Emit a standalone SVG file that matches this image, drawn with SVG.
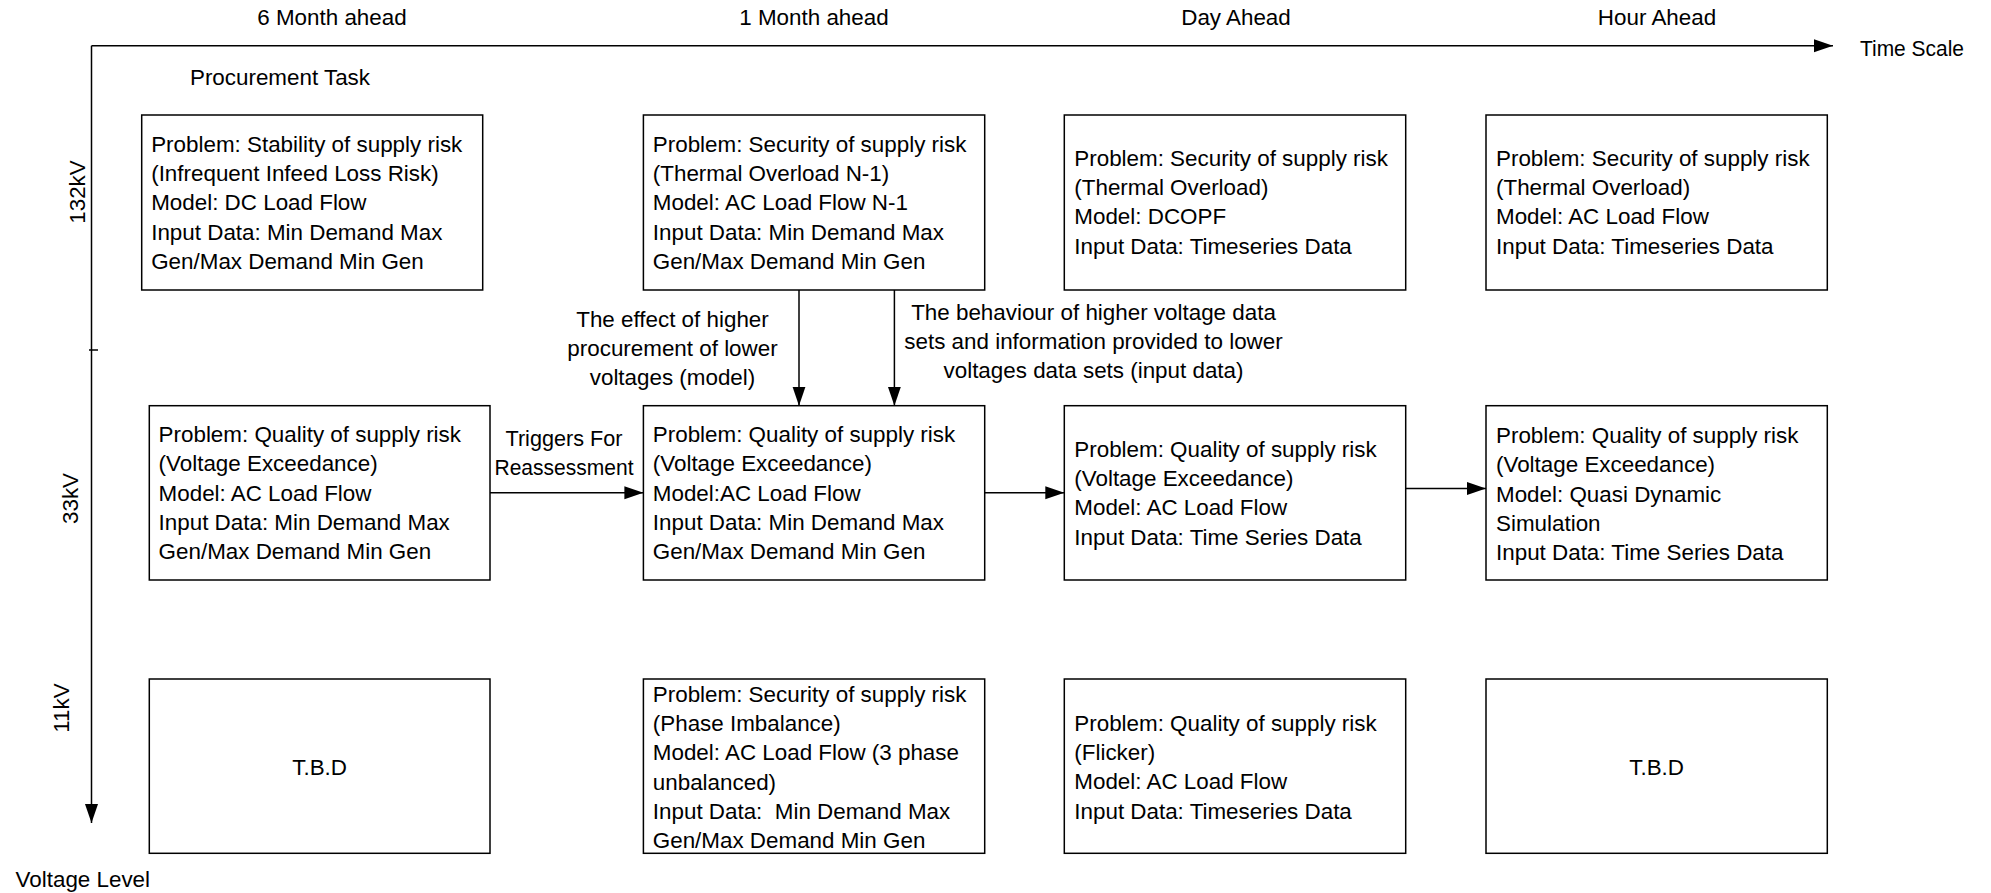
<svg xmlns="http://www.w3.org/2000/svg" width="1991" height="893" viewBox="0 0 1991 893">
  <defs>
    <style>
      .t { font-family: "Liberation Sans", Arial, sans-serif; font-size: 22.4px; fill: #000; }
      .c { text-anchor: middle; }
      .box { fill: #fff; stroke: #000; stroke-width: 1.5; }
      .ln { fill: none; stroke: #000; stroke-width: 1.5; }
      .pre { white-space: pre; }
    </style>
    <marker id="head" markerUnits="userSpaceOnUse" markerWidth="20" markerHeight="14" refX="19" refY="6.5" orient="auto">
      <path d="M0,0 L19,6.5 L0,13 Z" fill="#000"/>
    </marker>
  </defs>
  <rect width="1991" height="893" fill="#fff"/>

  <!-- axes -->
  <g id="axes">
    <line class="ln" x1="91.5" y1="45.7" x2="1833" y2="45.7" marker-end="url(#head)"/>
    <line class="ln" x1="91.5" y1="45.7" x2="91.5" y2="823" marker-end="url(#head)"/>
    <line class="ln" x1="89" y1="350" x2="98" y2="350"/>
    <text class="t c" x="332" y="25">6 Month ahead</text>
    <text class="t c" x="814" y="25">1 Month ahead</text>
    <text class="t c" x="1236" y="25">Day Ahead</text>
    <text class="t c" x="1657" y="25">Hour Ahead</text>
    <text class="t" x="1860" y="55.5" textLength="104" lengthAdjust="spacingAndGlyphs">Time Scale</text>
    <text class="t c" x="280" y="85">Procurement Task</text>
    <text class="t c" transform="translate(85,192) rotate(-90)">132kV</text>
    <text class="t c" transform="translate(78,498.5) rotate(-90)">33kV</text>
    <text class="t c" transform="translate(69,708) rotate(-90)">11kV</text>
    <text class="t" x="15.6" y="887">Voltage Level</text>
  </g>

  <!-- connectors -->
  <g id="connectors">
    <line class="ln" x1="490" y1="492.7" x2="643.4" y2="492.7" marker-end="url(#head)"/>
    <line class="ln" x1="984.7" y1="492.7" x2="1064.3" y2="492.7" marker-end="url(#head)"/>
    <line class="ln" x1="1405.7" y1="488.5" x2="1486" y2="488.5" marker-end="url(#head)"/>
    <line class="ln" x1="799" y1="290" x2="799" y2="405.7" marker-end="url(#head)"/>
    <line class="ln" x1="894.4" y1="290" x2="894.4" y2="405.7" marker-end="url(#head)"/>
    <text class="t c" x="564" y="445.7" textLength="117" lengthAdjust="spacingAndGlyphs">Triggers For</text>
    <text class="t c" x="564" y="475" textLength="139" lengthAdjust="spacingAndGlyphs">Reassessment</text>
    <text class="t c" x="672.5" y="326.7">The effect of higher</text>
    <text class="t c" x="672.5" y="355.7">procurement of lower</text>
    <text class="t c" x="672.5" y="384.7">voltages (model)</text>
    <text class="t c" x="1093.5" y="320">The behaviour of higher voltage data</text>
    <text class="t c" x="1093.5" y="349.3">sets and information provided to lower</text>
    <text class="t c" x="1093.5" y="378.3">voltages data sets (input data)</text>
  </g>

  <!-- 132kV row -->
  <g id="n132-6m">
    <rect class="box" x="141.7" y="115" width="341" height="175"/>
    <text class="t" x="151.2" y="151.7">Problem: Stability of supply risk</text>
    <text class="t" x="151.2" y="181">(Infrequent Infeed Loss Risk)</text>
    <text class="t" x="151.2" y="210.3">Model: DC Load Flow</text>
    <text class="t" x="151.2" y="239.6">Input Data: Min Demand Max</text>
    <text class="t" x="151.2" y="269">Gen/Max Demand Min Gen</text>
  </g>
  <g id="n132-1m">
    <rect class="box" x="643.4" y="115" width="341.3" height="175"/>
    <text class="t" x="652.8" y="151.7">Problem: Security of supply risk</text>
    <text class="t" x="652.8" y="181">(Thermal Overload N-1)</text>
    <text class="t" x="652.8" y="210.3">Model: AC Load Flow N-1</text>
    <text class="t" x="652.8" y="239.6">Input Data: Min Demand Max</text>
    <text class="t" x="652.8" y="269">Gen/Max Demand Min Gen</text>
  </g>
  <g id="n132-day">
    <rect class="box" x="1064.3" y="115" width="341.4" height="175"/>
    <text class="t" x="1074.3" y="165.7">Problem: Security of supply risk</text>
    <text class="t" x="1074.3" y="195">(Thermal Overload)</text>
    <text class="t" x="1074.3" y="224.3">Model: DCOPF</text>
    <text class="t" x="1074.3" y="253.6">Input Data: Timeseries Data</text>
  </g>
  <g id="n132-hour">
    <rect class="box" x="1486" y="115" width="341.3" height="175"/>
    <text class="t" x="1496" y="165.7">Problem: Security of supply risk</text>
    <text class="t" x="1496" y="195">(Thermal Overload)</text>
    <text class="t" x="1496" y="224.3">Model: AC Load Flow</text>
    <text class="t" x="1496" y="253.6">Input Data: Timeseries Data</text>
  </g>

  <!-- 33kV row -->
  <g id="n33-6m">
    <rect class="box" x="149.3" y="405.7" width="340.7" height="174.3"/>
    <text class="t" x="158.6" y="442">Problem: Quality of supply risk</text>
    <text class="t" x="158.6" y="471.3">(Voltage Exceedance)</text>
    <text class="t" x="158.6" y="500.6">Model: AC Load Flow</text>
    <text class="t" x="158.6" y="530">Input Data: Min Demand Max</text>
    <text class="t" x="158.6" y="559.3">Gen/Max Demand Min Gen</text>
  </g>
  <g id="n33-1m">
    <rect class="box" x="643.4" y="405.7" width="341.3" height="174.3"/>
    <text class="t" x="652.8" y="442">Problem: Quality of supply risk</text>
    <text class="t" x="652.8" y="471.3">(Voltage Exceedance)</text>
    <text class="t" x="652.8" y="500.6">Model:AC Load Flow</text>
    <text class="t" x="652.8" y="530">Input Data: Min Demand Max</text>
    <text class="t" x="652.8" y="559.3">Gen/Max Demand Min Gen</text>
  </g>
  <g id="n33-day">
    <rect class="box" x="1064.3" y="405.7" width="341.4" height="174.3"/>
    <text class="t" x="1074.3" y="456.7">Problem: Quality of supply risk</text>
    <text class="t" x="1074.3" y="486">(Voltage Exceedance)</text>
    <text class="t" x="1074.3" y="515.3">Model: AC Load Flow</text>
    <text class="t" x="1074.3" y="544.6">Input Data: Time Series Data</text>
  </g>
  <g id="n33-hour">
    <rect class="box" x="1486" y="405.7" width="341.3" height="174.3"/>
    <text class="t" x="1496" y="443">Problem: Quality of supply risk</text>
    <text class="t" x="1496" y="472.3">(Voltage Exceedance)</text>
    <text class="t" x="1496" y="501.6">Model: Quasi Dynamic</text>
    <text class="t" x="1496" y="531">Simulation</text>
    <text class="t" x="1496" y="560.3">Input Data: Time Series Data</text>
  </g>

  <!-- 11kV row -->
  <g id="n11-6m">
    <rect class="box" x="149.3" y="679" width="340.7" height="174.3"/>
    <text class="t c" x="319.6" y="775">T.B.D</text>
  </g>
  <g id="n11-1m">
    <rect class="box" x="643.4" y="679" width="341.3" height="174.3"/>
    <text class="t" x="652.8" y="701.7">Problem: Security of supply risk</text>
    <text class="t" x="652.8" y="731">(Phase Imbalance)</text>
    <text class="t" x="652.8" y="760.3">Model: AC Load Flow (3 phase</text>
    <text class="t" x="652.8" y="789.6">unbalanced)</text>
    <text class="t pre" x="652.8" y="819">Input Data:  Min Demand Max</text>
    <text class="t" x="652.8" y="848.3">Gen/Max Demand Min Gen</text>
  </g>
  <g id="n11-day">
    <rect class="box" x="1064.3" y="679" width="341.4" height="174.3"/>
    <text class="t" x="1074.3" y="730.7">Problem: Quality of supply risk</text>
    <text class="t" x="1074.3" y="760">(Flicker)</text>
    <text class="t" x="1074.3" y="789.3">Model: AC Load Flow</text>
    <text class="t" x="1074.3" y="818.6">Input Data: Timeseries Data</text>
  </g>
  <g id="n11-hour">
    <rect class="box" x="1486" y="679" width="341.3" height="174.3"/>
    <text class="t c" x="1656.6" y="775">T.B.D</text>
  </g>
</svg>
